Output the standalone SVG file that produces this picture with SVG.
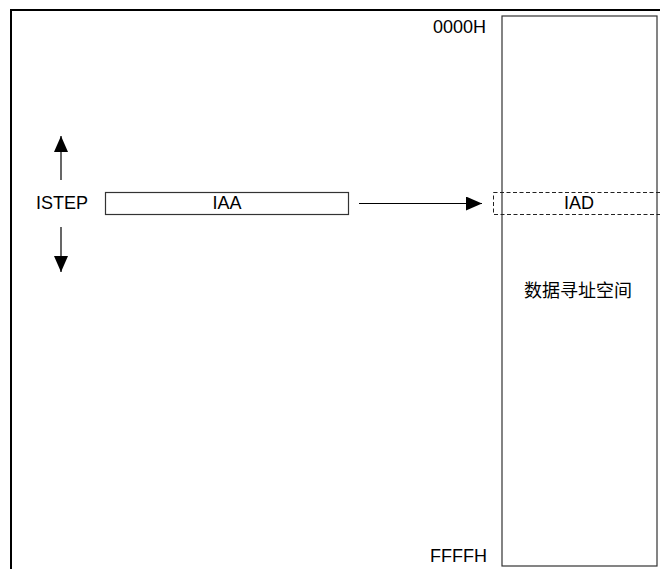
<svg xmlns="http://www.w3.org/2000/svg" width="660" height="569" viewBox="0 0 660 569">
<style>
text{font-family:"Liberation Sans",Arial,"Noto Sans CJK SC",sans-serif;font-size:18px;fill:#000}
.box{fill:#fff;stroke:#333;stroke-width:1.2}
.dash{fill:none;stroke:#222;stroke-width:1;stroke-dasharray:4,2.5}
.ln{stroke:#000;stroke-width:1.2;fill:none}
</style>
<defs>
<marker id="ah" viewBox="0 0 16 14" refX="16" refY="7" markerWidth="16" markerHeight="14" markerUnits="userSpaceOnUse" orient="auto">
<path d="M0,0 L16,7 L0,14 Z" fill="#000"/>
</marker>
</defs>
<g id="frame">
<line x1="11" y1="10" x2="660" y2="10" stroke="#000" stroke-width="2"/>
<line x1="11" y1="9" x2="11" y2="569" stroke="#000" stroke-width="2"/>
</g>
<g id="space">
<rect class="box" x="502" y="16" width="155" height="550"/>
<text x="578" y="297" text-anchor="middle">数据寻址空间</text>
<text x="486" y="33" text-anchor="end">0000H</text>
<text x="487" y="562" text-anchor="end">FFFFH</text>
</g>
<g id="iad">
<rect class="dash" x="493.5" y="192.5" width="170" height="22"/>
<text x="579" y="209" text-anchor="middle">IAD</text>
</g>
<g id="iaa">
<rect class="box" x="105.5" y="192.5" width="243" height="22"/>
<text x="227" y="209" text-anchor="middle">IAA</text>
</g>
<g id="istep">
<text x="36" y="209">ISTEP</text>
</g>
<g id="connectors">
<line class="ln" x1="359" y1="203.5" x2="482" y2="203.5" marker-end="url(#ah)"/>
<line class="ln" x1="61" y1="180" x2="61" y2="136" marker-end="url(#ah)"/>
<line class="ln" x1="61" y1="227" x2="61" y2="272" marker-end="url(#ah)"/>
</g>
</svg>
